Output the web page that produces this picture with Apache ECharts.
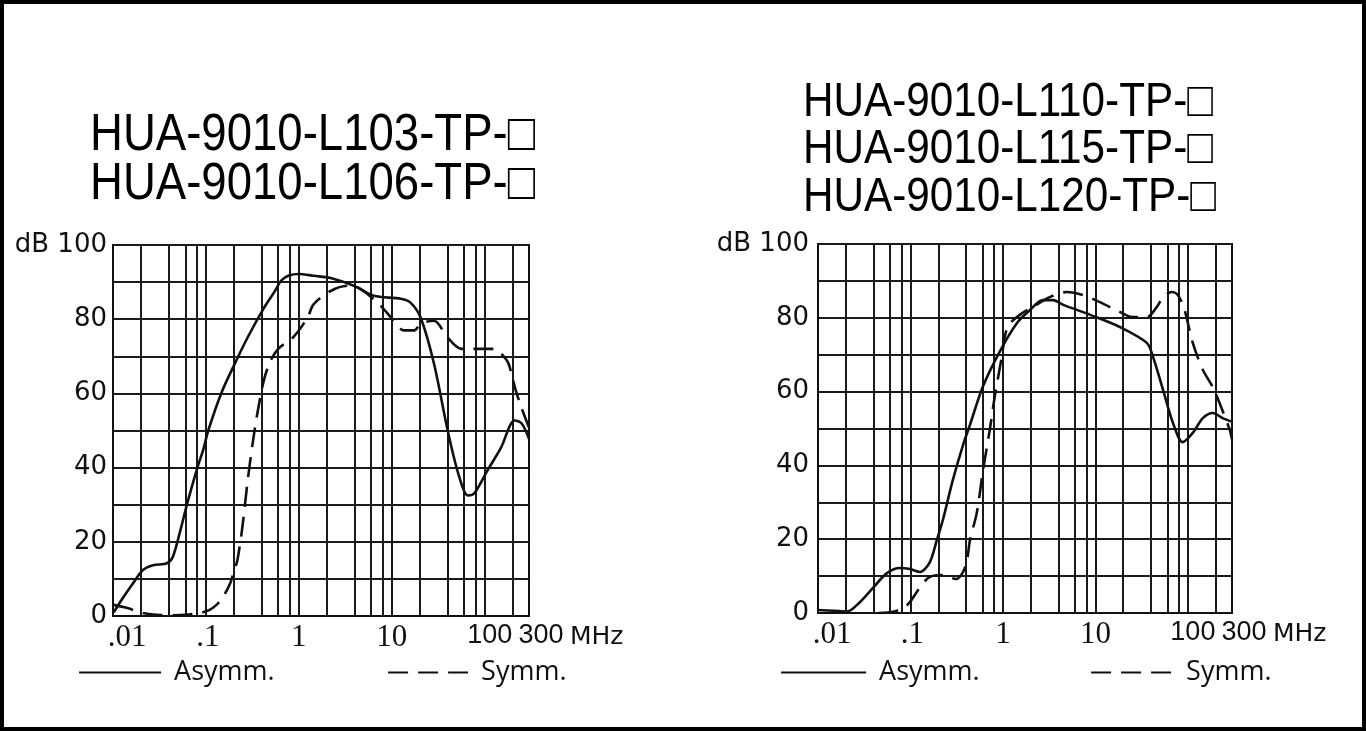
<!DOCTYPE html>
<html><head><meta charset="utf-8">
<script src="https://cdn.jsdelivr.net/npm/echarts@6/dist/echarts.min.js"></script>
<style>
html,body{margin:0;padding:0;background:#fff}
#c{width:1366px;height:731px}
#f{position:absolute;left:0;top:0;width:1366px;height:731px;box-sizing:border-box;border:4px solid #000;pointer-events:none}
</style>
</head><body><div id="c"></div><div id="f"></div>
<script>
// ---- text ----
const leftTitles = ['HUA-9010-L103-TP-\u25A1', 'HUA-9010-L106-TP-\u25A1'];
const rightTitles = ['HUA-9010-L110-TP-\u25A1', 'HUA-9010-L115-TP-\u25A1', 'HUA-9010-L120-TP-\u25A1'];
const seriesNames = ['Asymm.', 'Symm.'];
const xTickValues = [0.01, 0.1, 1, 10, 100, 300];
const xTickLabels = ['.01', '.1', '1', '10', '100', '300'];
const xUnit = 'MHz';
const yUnit = 'dB';
const gridFreqs = [0.02,0.04,0.06,0.08,0.1,0.2,0.4,0.6,0.8,1,2,4,6,8,10,20,40,60,80,100,200];

// ---- left chart data (MHz, dB) ----
const leftAsymmFreq = [0.0102,0.0125,0.0165,0.021,0.027,0.038,0.044,0.053,0.063,0.081,0.094,0.106,0.146,0.2,0.28,0.42,0.55,0.65,0.78,1.0,1.45,2.2,3.9,6.4,12.5,16,20.5,28.5,40,52,66,77,107,150,210,250,300];
const leftAsymmDb   = [1,4.5,8.9,12.4,13.7,14.2,15.9,23,30.4,40,45,50,60,67.5,75,83,87.5,90.5,91.8,92.2,91.7,91.1,89,86.3,85.5,84.4,80.4,68,50,38.4,32.5,33,39.2,45.4,52.7,51.9,47.8];
const leftSymmFreq  = [0.0102,0.014,0.021,0.03,0.045,0.065,0.085,0.104,0.12,0.136,0.16,0.183,0.2,0.218,0.247,0.28,0.316,0.36,0.42,0.49,0.6,0.86,1.24,1.44,2.2,3.35,4.6,7.6,10.2,13.5,17.5,20.5,28.5,40,56,84,128,160,181,216,250,300];
const leftSymmDb    = [3,2.2,0.8,0.3,0.2,0.4,0.8,1.4,2.3,3.5,6,8.9,12,15,24,36,46,55,63.5,68.5,72,75,80.4,84,87.6,89,88.2,83.6,80,77,77,78.8,79.6,75,72,72,72,70,68,60.8,56,50.8];

// ---- right chart data (MHz, dB) ----
const rightAsymmFreq = [0.01,0.015,0.0206,0.0285,0.0393,0.0557,0.077,0.099,0.127,0.162,0.193,0.224,0.287,0.37,0.44,0.61,0.93,1.42,1.96,2.7,3.5,4.5,8.8,18.4,36,42,54,69,88,113,145,186,238,300];
const rightAsymmDb   = [0.8,0.6,0.4,3,6.8,10.8,12.2,11.9,11.1,13.8,19.8,25.2,36,45.5,51,61.5,71,78.6,82.1,84.8,84.8,83.5,80.8,77.5,73.2,69.4,60.4,51.5,46.3,48.8,52.8,54.2,52.8,51.8];
const rightSymmFreq  = [0.045,0.065,0.085,0.099,0.127,0.162,0.224,0.31,0.37,0.41,0.44,0.52,0.61,0.72,0.82,0.98,1.05,1.15,1.52,2.3,3.2,4.9,7.3,11,18.4,25,36,46,54,67,78,92,113,145,186,220,284,300];
const rightSymmDb    = [0,0.3,1.5,3,7,9.8,10.3,9.2,11.1,14.5,19.8,27,38.8,49.6,59,70,75,78,80.8,83.5,85.6,87,86.2,84.3,81.6,80.2,80.2,82.9,85.6,87,86.2,82.1,73.2,65.9,61.2,56.9,49.6,47];

const zip = (a, b) => a.map((v, i) => [v, b[i]]);

const chart = echarts.init(document.getElementById('c'), null, {renderer: 'canvas'});

function xLabel(v) {
  let best = 0;
  xTickValues.forEach((t, i) => { if (Math.abs(Math.log10(v) - Math.log10(t)) < Math.abs(Math.log10(v) - Math.log10(xTickValues[best]))) best = i; });
  if (Math.abs(Math.log10(v) - Math.log10(xTickValues[best])) > 0.05) return '';
  return '{l' + best + '|' + xTickLabels[best] + '}';
}
const serif = {fontFamily: 'Liberation Serif', fontSize: 31, color: '#111'};
const sans = {fontFamily: 'Liberation Sans', fontSize: 27, color: '#111'};
const xRich = {
  l0: Object.assign({}, serif, {padding: [0, 0, 0, 28]}),
  l1: Object.assign({}, serif, {padding: [0, 0, 0, 4]}),
  l2: Object.assign({}, serif),
  l3: Object.assign({}, serif),
  l4: Object.assign({}, sans, {padding: [0, 0, 0, 10]}),
  l5: Object.assign({}, sans, {padding: [0, 0, 0, 24]})
};

function makeX(idx) {
  return {
    type: 'log', logBase: 10, gridIndex: idx, min: 0.01, max: 300,
    axisLine: {show: true, lineStyle: {color: '#111', width: 2}},
    axisTick: {show: false}, splitLine: {show: false}, minorTick: {show: false},
    axisLabel: {formatter: xLabel, rich: xRich, margin: 6, showMinLabel: true, showMaxLabel: true},
    name: xUnit, nameLocation: 'end', nameGap: 41,
    nameTextStyle: {fontFamily: 'DejaVu Sans', fontSize: 25, color: '#111', verticalAlign: 'top', align: 'left', padding: [9, 0, 0, 0]}
  };
}
function makeY(idx, margin) {
  return {
    type: 'value', gridIndex: idx, min: 0, max: 100, interval: 10,
    axisLine: {show: true, lineStyle: {color: '#111', width: 2}},
    axisTick: {show: false},
    splitLine: {show: true, lineStyle: {color: '#1a1a1a', width: 2}},
    axisLabel: {
      margin: margin, fontFamily: 'DejaVu Sans', fontSize: 26, color: '#111',
      formatter: v => (v % 20 !== 0 ? '' : (v === 100 ? yUnit + ' ' + v : String(v)))
    }
  };
}
function curve(name, idx, data, dashed) {
  return {
    name: name, type: 'line', xAxisIndex: idx, yAxisIndex: idx, data: data,
    showSymbol: false, symbol: 'none', smooth: 0.3, z: 5, silent: true,
    lineStyle: {color: '#111', width: 2.6, type: dashed ? [20, 10] : 'solid'},
    itemStyle: {color: '#111'}
  };
}
function vGrid(idx) {
  return {
    name: 'grid' + idx, type: 'line', xAxisIndex: idx, yAxisIndex: idx, data: [], z: 1, silent: true,
    markLine: {
      silent: true, symbol: ['none', 'none'], animation: false,
      label: {show: false},
      lineStyle: {color: '#1a1a1a', width: 2, type: 'solid'},
      emphasis: {disabled: true},
      data: gridFreqs.map(v => ({xAxis: v}))
    }
  };
}
function legend(left, top, name, w, gap) {
  return {
    left: left, top: top, padding: 0, data: [name], itemWidth: w, itemHeight: 14, selectedMode: false,
    itemStyle: {opacity: 0},
    lineStyle: {width: 2.2},
    textStyle: {fontFamily: 'Open Sans', fontSize: 27, color: '#111', padding: [0, 0, 0, gap]}
  };
}
function titleText(x, y, text, size, sx) {
  return {type: 'text', x: x, y: y, scaleX: sx, silent: true,
    style: {text: text, font: size + 'px "Liberation Sans"', fill: '#000', verticalAlign: 'middle', textVerticalAlign: 'middle', align: 'left'}};
}

const option = {
  backgroundColor: '#fff',
  animation: false,
  grid: [
    {left: 113, top: 245, width: 416, height: 371, show: true, borderColor: '#111', borderWidth: 2, backgroundColor: 'transparent'},
    {left: 818, top: 244, width: 414, height: 369, show: true, borderColor: '#111', borderWidth: 2, backgroundColor: 'transparent'}
  ],
  xAxis: [makeX(0), makeX(1)],
  yAxis: [makeY(0, 6), makeY(1, 9)],
  legend: [
    legend(78, 659, seriesNames[0], 82, 8),
    legend(387, 659, seriesNames[1], 88, 0),
    legend(780, 659, seriesNames[0], 85, 8),
    legend(1090, 659, seriesNames[1], 90, 0)
  ],
  graphic: [
    titleText(90, 136, leftTitles[0], 52, 0.876),
    titleText(90, 185, leftTitles[1], 52, 0.876),
    titleText(803, 102, rightTitles[0], 49, 0.862),
    titleText(803, 149, rightTitles[1], 49, 0.862),
    titleText(803, 197, rightTitles[2], 49, 0.862)
  ],
  series: [
    vGrid(0), vGrid(1),
    curve(seriesNames[0], 0, zip(leftAsymmFreq, leftAsymmDb), false),
    curve(seriesNames[1], 0, zip(leftSymmFreq, leftSymmDb), true),
    curve(seriesNames[0], 1, zip(rightAsymmFreq, rightAsymmDb), false),
    curve(seriesNames[1], 1, zip(rightSymmFreq, rightSymmDb), true)
  ]
};
chart.setOption(option);
</script>
</body></html>
